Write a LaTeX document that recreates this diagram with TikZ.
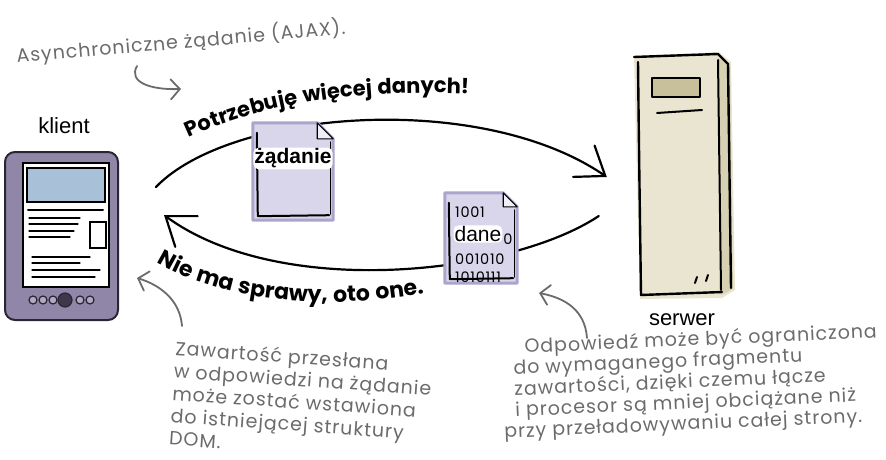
\documentclass[tikz,border=0pt]{standalone}
\usepackage{fontspec}
\setmainfont{Liberation Sans}
\newfontfamily\hand[LetterSpace=5]{Poppins}
\usepackage{tikz}
\usetikzlibrary{arrows.meta,positioning,calc,decorations.text}
\definecolor{noteGray}{HTML}{6B6B6B}
\definecolor{padFrame}{HTML}{9086A8}
\definecolor{padInk}{HTML}{2B2433}
\definecolor{padScreen}{HTML}{A8C1D9}
\definecolor{docFill}{HTML}{D9D5EA}
\definecolor{docHalo}{HTML}{ACA4CB}
\definecolor{serverFill}{HTML}{E9E5D0}
\definecolor{serverSide}{HTML}{D7D1B4}
\definecolor{serverSlot}{HTML}{C8C09A}

\begin{document}
\begin{tikzpicture}[x=1pt, y=-1pt,
  tag/.style={font=\fontsize{22}{22}\selectfont, inner sep=1pt},
  doctag/.style={font=\fontsize{21}{21}\selectfont, fill=white, rounded corners=5pt, inner sep=1pt},
  note/.style={font=\hand\fontsize{19}{21}\selectfont, text=noteGray, align=left, inner sep=0pt},
  bits/.style={font=\hand\fontsize{14.5}{14.5}\selectfont, inner sep=0pt},
  sheet/.style={rectangle, inner sep=0pt},
  flow/.style={draw=black, line width=2.2pt, line cap=round,
    -{Straight Barb[length=26pt, width=38pt, line cap=round]}},
  pointer/.style={draw=noteGray, line width=1.8pt, line cap=round,
    -{Straight Barb[length=9pt, width=20pt, line cap=round]}},
  ink/.style={draw=black, line width=2pt, line cap=round, line join=round},
  thinink/.style={draw=black, line width=1.1pt, line cap=round}
]
\useasboundingbox (0,0) rectangle (886,460);

% client tablet
\node[rectangle, rounded corners=10pt, fill=padFrame, draw=padInk, line width=2pt,
  minimum width=113pt, minimum height=168pt] (tablet) at (61.5,236) {};
\draw[thinink, fill=white] (23,163) rectangle (109,287);
\draw[thinink, fill=padScreen] (27,168) rectangle (105,202);
\draw[ink] (28,210) -- (103,210);
\foreach \y/\len in {218/80, 224/78, 231/74, 237/70}
  \draw[thinink] (29,\y) -- (\len,\y);
\draw[thinink] (90,222) rectangle (106,248);
\foreach \y/\len in {257/90, 263/80, 270/100, 277/95}
  \draw[thinink] (32,\y) -- (\len,\y);
\foreach \x in {33,43,53,80,90}
  \draw[padInk, line width=1.2pt, fill=padFrame!70!white] (\x,300) circle (4pt);
\draw[padInk, line width=1.2pt, fill=padInk!80!padFrame] (65,300) circle (7pt);
\node[tag] (klient) at (64,126) {klient};

% server tower
\node[sheet, minimum width=103pt, minimum height=245pt] (server) at (683.5,175) {};
\fill[serverFill] (634,56) -- (719,52) -- (731,62) -- (735,290) -- (722,298) -- (640,299) -- cycle;
\fill[serverSide] (718,58) -- (730,63) -- (733,289) -- (721,295) -- cycle;
\draw[ink, line width=2.4pt] (634,57) -- (718,54) -- (728,64) -- (731,288);
\draw[ink, line width=2.4pt] (638,62) .. controls (639,150) .. (641,295) -- (722,292);
\draw[ink] (718,60) -- (721,290);
\draw[ink, fill=serverSlot] (652,78) rectangle (700,97);
\draw[ink] (657,113) -- (702,110);
\draw[ink] (695,283) -- (697,277) (706,281) -- (708,275);
\node[tag] (serwer) at (682,320) {serwer};

% request / response loop
\coordinate (reqfrom)  at ([xshift=37pt, yshift=49pt]tablet.east);
\coordinate (reqto)    at ([xshift=-25pt, yshift=-2pt]server.west);
\coordinate (respfrom) at ([xshift=-33pt, yshift=-41pt]server.west);
\coordinate (respto)   at ([xshift=45pt, yshift=21pt]tablet.east);
\draw[flow] (reqfrom) .. controls (230,110) and (480,90) .. (reqto);
\draw[flow] (respfrom) .. controls (510,275) and (280,300) .. (respto);

% the two sheets
\node[sheet, minimum width=80pt, minimum height=97pt] (reqdoc) at (293,171.5) {};
\node[sheet, minimum width=72pt, minimum height=90pt] (respdoc) at (481,238) {};
\foreach \d/\ear in {reqdoc/16, respdoc/14} {
  \draw[docHalo, line width=3pt, line join=round, fill=docFill]
    (\d.north west) -- ([xshift=-\ear pt]\d.north east) -- ([yshift=-\ear pt]\d.north east)
    -- (\d.south east) -- (\d.south west) -- cycle;
  \draw[thinink, fill=docFill!40!white, line join=round]
    ([xshift=-\ear pt]\d.north east) -- ([xshift=-\ear pt, yshift=-\ear pt]\d.north east)
    -- ([yshift=-\ear pt]\d.north east) -- cycle;
  \draw[ink] ([xshift=4pt, yshift=-10pt]\d.north west) -- ([xshift=5pt, yshift=4pt]\d.south west)
    -- ([xshift=-4pt, yshift=5pt]\d.south east);
  \draw[thinink] ([xshift=-3pt, yshift=-\ear pt-3pt]\d.north east) -- ([xshift=-3pt, yshift=6pt]\d.south east);
}
\foreach \bitrow/\y in {1001/212, 001010/259, 1010111/277}
  \node[bits, anchor=west] (bits\y) at (455,\y) {\bitrow};
\node[bits] (bitstail) at (508,239) {0};
\node[doctag] (reqtag) at ([yshift=13pt]reqdoc.center) {\bfseries żądanie};
\node[doctag] (resptag) at (478,234) {dane};

% captions along the loop
\path[decorate, decoration={text along path, text align=center,
  text={|\hand\bfseries\fontsize{21}{21}\selectfont|Potrzebuję więcej danych!}}]
  (168,148) .. controls (245,106) and (355,86) .. (492,95);
\path[decorate, decoration={text along path, text align=center,
  text={|\hand\bfseries\fontsize{22}{22}\selectfont|Nie ma sprawy, oto one.}}]
  (142,252) .. controls (200,298) and (320,316) .. (442,290);

% remarks
\node[note, rotate=5, anchor=base west] (asyncnote) at (17,63) {Asynchroniczne żądanie (AJAX).};
\coordinate (asynctail) at (137,66);
\coordinate (asynctip) at (181,89);
\draw[pointer] (asynctail) .. controls (128,82) and (150,90) .. (asynctip);

\node[note, font=\hand\fontsize{19}{22.5}\selectfont, rotate=-4, anchor=north west] (clientnote) at (176,340)
  {Zawartość przesłana\\w odpowiedzi na żądanie\\może zostać wstawiona\\do istniejącej struktury\\DOM.};
\coordinate (clienttail) at (182,326);
\coordinate (clienttip) at (137,278);
\draw[pointer] (clienttail) .. controls (180,300) and (160,285) .. (clienttip);

\node[note, rotate=2.5, anchor=north west] (servernote) at (500,339)
  {\hspace*{24pt}Odpowiedź może być ograniczona\\\hspace*{12pt}do wymaganego fragmentu\\
   \hspace*{12pt}zawartości, dzięki czemu łącze\\\hspace*{12pt}i procesor są mniej obciążane niż\\
   przy przeładowywaniu całej strony.};
\coordinate (servertail) at (587,338);
\coordinate (servertip) at (539,293);
\draw[pointer] (servertail) .. controls (585,310) and (565,298) .. (servertip);
\end{tikzpicture}
\end{document}
